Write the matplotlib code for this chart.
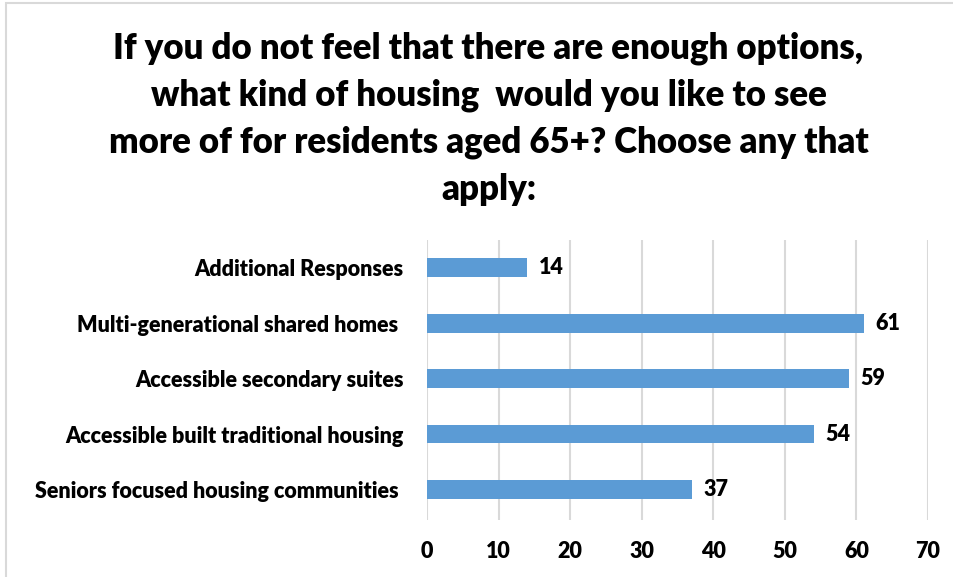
import matplotlib.pyplot as plt
from matplotlib.patches import Rectangle

# Survey responses (bottom to top)
categories = ['Seniors focused housing communities ',
              'Accessible built traditional housing',
              'Accessible secondary suites',
              'Multi-generational shared homes ',
              'Additional Responses']
counts = [37, 54, 59, 61, 14]
xticks = [0, 10, 20, 30, 40, 50, 60, 70]

title = ("If you do not feel that there are enough options,\n"
         "what kind of housing  would you like to see\n"
         "more of for residents aged 65+? Choose any that\n"
         "apply:")

plt.rcParams['font.family'] = ['Lato', 'DejaVu Sans']
W = 'heavy'

fig = plt.figure(figsize=(9.54, 5.77), dpi=100)
ax = fig.add_axes([0.4476, 0.0988, 0.5252, 0.4852])

ypos = list(range(len(categories)))
ax.barh(ypos, counts, height=0.34, color='#5b9bd5', zorder=3)

for y, v in zip(ypos, counts):
    ax.text(v + 1.6, y, str(v), va='center', ha='left',
            fontsize=15.5, fontweight=W, color='black')

ax.set_xlim(0, 70)
ax.set_ylim(-0.55, 4.5)
ax.set_xticks(xticks)
ax.set_yticks(ypos)
ax.set_yticklabels(categories, fontsize=15.5, fontweight=W)
for lbl in ax.get_xticklabels():
    lbl.set_fontsize(15.5)
    lbl.set_fontweight(W)

ax.grid(axis='x', color='#d9d9d9', linewidth=1.5, zorder=0)
ax.tick_params(axis='both', length=0)
ax.tick_params(axis='y', pad=17)
ax.tick_params(axis='x', pad=15)
for s in ax.spines.values():
    s.set_visible(False)

fig.text(0.512, 0.945, title, ha='center', va='top', fontsize=25,
         fontweight=W, linespacing=1.5)

# light frame around the chart area
fig.patches.append(Rectangle((0.006, -0.01), 1.2, 1.005, transform=fig.transFigure,
                             fill=False, edgecolor='#d9d9d9', linewidth=1.5))

fig.savefig('out.png', dpi=100)
